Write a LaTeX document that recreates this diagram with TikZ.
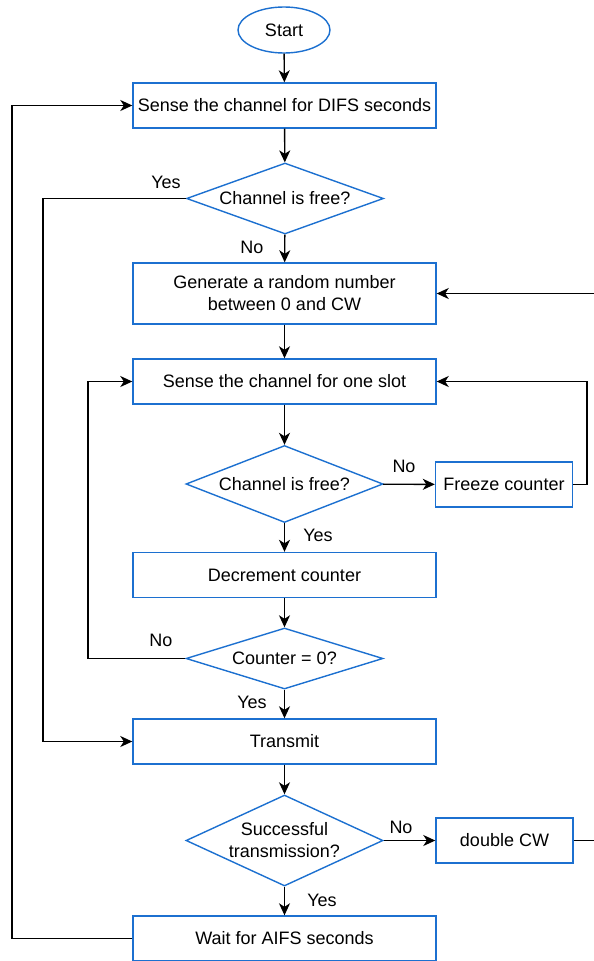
\documentclass[tikz,border=0pt]{standalone}
\usepackage{fontspec}
\setmainfont{Liberation Sans}
\usetikzlibrary{shapes.geometric,arrows.meta}
\definecolor{edgeblue}{RGB}{28,112,208}
\tikzset{
  every node/.style={font=\fontsize{18}{22}\selectfont},
  proc/.style={rectangle, draw=edgeblue, line width=1.4pt, minimum width=303pt, minimum height=45pt, inner sep=0pt, align=center},
  smallproc/.style={proc, minimum width=137pt},
  term/.style={ellipse, draw=edgeblue, line width=1.4pt, minimum width=92pt, minimum height=46pt, inner sep=0pt},
  decision/.style={diamond, draw=edgeblue, line width=1.4pt, minimum width=197pt, inner sep=0pt, align=center},
  flow/.style={draw=black, line width=1.4pt, -{Stealth[length=12pt,width=11pt,inset=3.5pt]}},
  plain/.style={draw=black, line width=1.4pt},
  lbl/.style={inner sep=0pt}
}
\newcommand{\ctext}[1]{\makebox[0pt]{#1}}
\begin{document}
\begin{tikzpicture}[x=1pt,y=-1pt]
\useasboundingbox (0,0) rectangle (594,961);

% process steps
\node[term] (start) at (284,30) {Start};
\node[proc] (difs) at (284.5,105.5) {Sense the channel for DIFS seconds};
\node[decision, minimum height=71pt] (free1) at (285,198.5) {\ctext{Channel is free?}};
\node[proc, minimum height=61pt] (rand) at (284.5,293.5) {Generate a random number\\between 0 and CW};
\node[proc] (slot) at (284.5,381.5) {Sense the channel for one slot};
\node[decision, minimum height=77pt] (free2) at (284.5,484) {\ctext{Channel is free?}};
\node[smallproc] (freeze) at (504,484.5) {Freeze counter};
\node[proc] (decr) at (284.5,575) {Decrement counter};
\node[decision, minimum height=61pt] (zero) at (284.5,658.5) {\ctext{Counter = 0?}};
\node[proc] (tx) at (284.5,741.5) {Transmit};
\node[decision, minimum height=91pt] (succ) at (284.5,840.5) {\ctext{Successful}\\\ctext{transmission?}};
\node[smallproc] (dcw) at (504.5,840.5) {double CW};
\node[proc] (aifs) at (284.5,938.5) {Wait for AIFS seconds};

% free ends leaving the drawing on the right
\coordinate (outdcw) at (594,840.5);
\coordinate (outrand) at (594,293.5);

% main column
\draw[flow] (start) -- (difs);
\draw[flow] (difs) -- (free1);
\draw[flow] (free1) -- (rand);
\draw[flow] (rand) -- (slot);
\draw[flow] (slot) -- (free2);
\draw[flow] (free2) -- (decr);
\draw[flow] (decr) -- (zero);
\draw[flow] (zero) -- (tx);
\draw[flow] (tx) -- (succ);
\draw[flow] (succ) -- (aifs);

% side branches
\draw[flow] (free2) -- (freeze);
\draw[flow] (succ) -- (dcw);
\draw[plain] (dcw) -- (outdcw);
\draw[flow] (outrand) -- (rand);
\draw[flow] (freeze.east) -- (587,484.5) |- (slot.east);
\draw[flow] (zero.west) -- (88,658.5) |- (slot.west);
\draw[flow] (free1.west) -- (43,198.5) |- (tx.west);
\draw[flow] (aifs.west) -- (12,938.5) |- (difs.west);

% branch labels
\node[lbl] (y1) at (166,182) {Yes};
\node[lbl] (n1) at (252,247) {No};
\node[lbl] (n2) at (404,466) {No};
\node[lbl] (y2) at (318,535) {Yes};
\node[lbl] (n3) at (161,640) {No};
\node[lbl] (y3) at (252,702) {Yes};
\node[lbl] (n4) at (401,827) {No};
\node[lbl] (y4) at (322,900) {Yes};
\end{tikzpicture}
\end{document}
